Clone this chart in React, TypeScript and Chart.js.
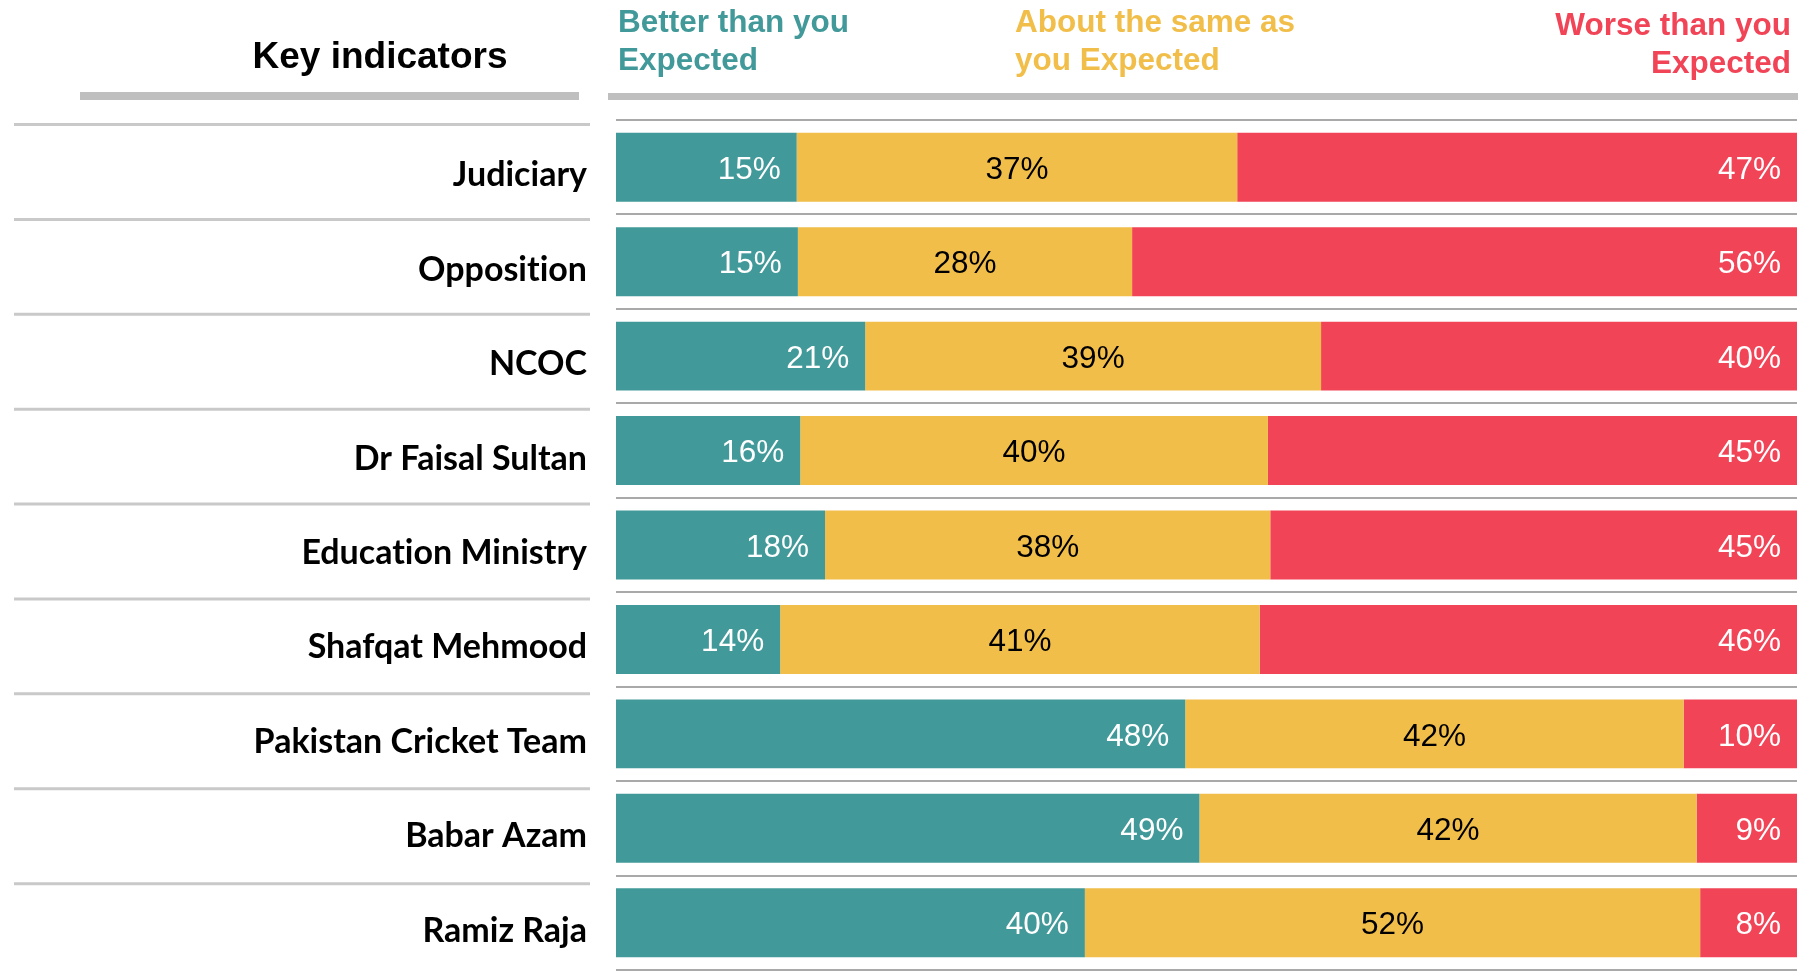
import React, { useEffect, useRef } from "react";
import { Chart, registerables } from "chart.js";

Chart.register(...registerables);

const categories = [
  "Judiciary",
  "Opposition",
  "NCOC",
  "Dr Faisal Sultan",
  "Education Ministry",
  "Shafqat Mehmood",
  "Pakistan Cricket Team",
  "Babar Azam",
  "Ramiz Raja",
];
const betterValues = [15.3, 15.4, 21.1, 15.6, 17.7, 13.9, 48.2, 49.4, 39.7];
const sameValues = [37.3, 28.3, 38.6, 39.6, 37.7, 40.6, 42.2, 42.1, 52.1];
const worseValues = [47.4, 56.3, 40.3, 44.8, 44.6, 45.5, 9.6, 8.5, 8.2];

const seriesLines = [
  ["Better than you", "Expected"],
  ["About the same as", "you Expected"],
  ["Worse than you", "Expected"],
];
const headerTitle = "Key indicators";

const TEAL = "#429999";
const YELLOW = "#F1BE4A";
const RED = "#F14457";
const ARIAL = "'Liberation Sans', Arial, sans-serif";

const decorPlugin = {
  id: "decor",
  beforeDraw(chart: any) {
    const ctx = chart.ctx;
    try {
      ctx.textRendering = "optimizeSpeed";
    } catch (e) {}
    const ys = chart.scales.y;
    ctx.save();
    // header title
    ctx.fillStyle = "#000";
    ctx.font = `bold 37px ${ARIAL}`;
    ctx.textAlign = "center";
    ctx.textBaseline = "alphabetic";
    ctx.fillText(headerTitle, 380, 68);
    // header bars
    ctx.fillStyle = "#bfbfbf";
    ctx.fillRect(80, 92, 499, 8);
    ctx.fillRect(608, 93, 1190, 7);
    // legend titles
    ctx.font = `bold 31.5px ${ARIAL}`;
    const colors = [TEAL, YELLOW, RED];
    const xs = [618, 1015, 1791];
    const aligns = ["left", "left", "right"];
    const base = [32, 32, 35];
    seriesLines.forEach((lines, s) => {
      ctx.fillStyle = colors[s];
      ctx.textAlign = aligns[s];
      lines.forEach((ln, k) => ctx.fillText(ln, xs[s], base[s] + k * 38));
    });
    // left-side row lines
    const n = categories.length;
    const pitch = (ys.bottom - ys.top) / n;
    ctx.strokeStyle = "#c9c9c9";
    ctx.lineWidth = 3;
    for (let i = 0; i < n; i++) {
      const yy = ys.getPixelForValue(i) - pitch / 2 + 4.5 + i * 0.45;
      ctx.beginPath();
      ctx.moveTo(14, yy);
      ctx.lineTo(590, yy);
      ctx.stroke();
    }
    ctx.restore();
  },
  afterDatasetsDraw(chart: any) {
    const ctx = chart.ctx;
    ctx.save();
    ctx.font = `31.5px ${ARIAL}`;
    ctx.textBaseline = "middle";
    chart.data.datasets.forEach((ds: any, di: number) => {
      const meta = chart.getDatasetMeta(di);
      meta.data.forEach((bar: any, i: number) => {
        const txt = Math.round(ds.data[i]) + "%";
        const yy = bar.y + 3;
        if (di === 1) {
          ctx.fillStyle = "#000";
          ctx.textAlign = "center";
          ctx.fillText(txt, (bar.base + bar.x) / 2, yy);
        } else {
          ctx.fillStyle = "#fff";
          ctx.textAlign = "right";
          ctx.fillText(txt, bar.x - 16, yy);
        }
      });
    });
    ctx.restore();
  },
};

export default function App() {
  const ref = useRef<HTMLCanvasElement>(null);
  useEffect(() => {
    if (!ref.current) return;
    const chart = new Chart(ref.current, {
      type: "bar",
      data: {
        labels: categories,
        datasets: [
          { label: seriesLines[0].join(" "), data: betterValues, backgroundColor: TEAL },
          { label: seriesLines[1].join(" "), data: sameValues, backgroundColor: YELLOW },
          { label: seriesLines[2].join(" "), data: worseValues, backgroundColor: RED },
        ],
      },
      options: {
        indexAxis: "y",
        responsive: false,
        animation: false,
        events: [],
        layout: { padding: { top: 120, bottom: 4, left: 0, right: 1 } },
        datasets: { bar: { barPercentage: 0.73, categoryPercentage: 1, borderWidth: 0 } },
        plugins: { legend: { display: false }, tooltip: { enabled: false } },
        scales: {
          x: { stacked: true, min: 0, max: 100, display: false },
          y: {
            stacked: true,
            grid: { offset: true, color: "#a9a9a9", lineWidth: 2, drawTicks: false },
            border: { display: false },
            ticks: {
              color: "#000",
              padding: 29,
              labelOffset: 8,
              font: { family: "Lato, 'Open Sans', sans-serif", weight: "bold", size: 34 },
            },
            afterFit(scale: any) {
              scale.width = 616;
              scale.paddingTop = 0;
              scale.paddingBottom = 0;
            },
          },
        },
      },
      plugins: [decorPlugin],
    } as any);
    return () => chart.destroy();
  }, []);
  return (
    <div style={{ position: "absolute", left: 0, top: 0, width: 1798, height: 974 }}>
      <canvas ref={ref} width={1798} height={974} style={{ display: "block" }} />
    </div>
  );
}
